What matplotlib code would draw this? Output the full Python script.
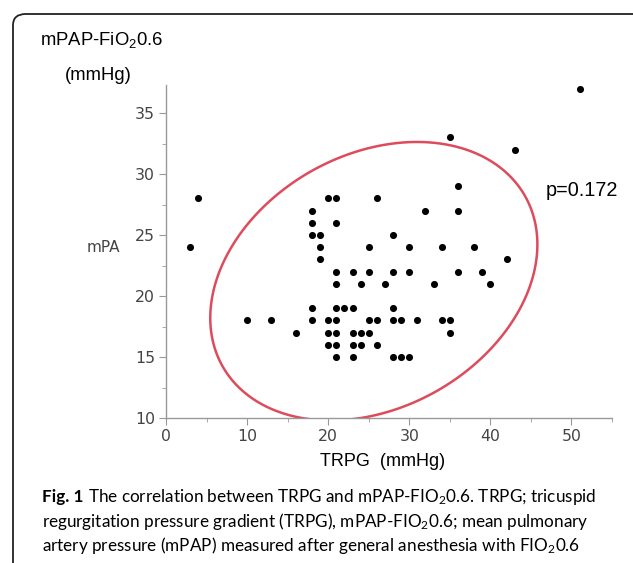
import numpy as np
import matplotlib
matplotlib.use("Agg")
import matplotlib.pyplot as plt
from matplotlib.patches import FancyBboxPatch, Polygon

plt.rcParams['mathtext.default'] = 'regular'

# TRPG (mmHg) vs mPAP at FiO2 0.6 (mmHg)
trpg = [3, 4, 10, 13, 16,
        18, 18, 18, 18, 18,
        19, 19, 19,
        20, 20, 20, 20,
        21, 21, 21, 21, 21, 21, 21, 21, 21,
        22,
        23, 23, 23, 23, 23,
        24, 24, 24,
        25, 25, 25, 25,
        26, 26, 26,
        27,
        28, 28, 28, 28, 28,
        29, 29,
        30, 30, 30,
        31, 32, 33,
        34, 34,
        35, 35, 35,
        36, 36, 36,
        38, 39, 40, 42, 43, 51]
mpap = [24, 28, 18, 18, 17,
        27, 26, 25, 19, 18,
        25, 24, 23,
        28, 18, 17, 16,
        28, 26, 22, 21, 19, 18, 17, 16, 15,
        19,
        22, 19, 17, 16, 15,
        21, 17, 16,
        24, 22, 18, 17,
        28, 18, 16,
        21,
        25, 22, 19, 18, 15,
        18, 15,
        24, 22, 15,
        18, 27, 21,
        24, 18,
        33, 18, 17,
        29, 27, 22,
        24, 22, 21, 23, 32, 37]
p_value = 0.172
x_ticks = [0, 10, 20, 30, 40, 50]
y_ticks = [10, 15, 20, 25, 30, 35]
ellipse_level = 0.94

W, H = 633, 563
fig = plt.figure(figsize=(W / 100, H / 100), dpi=100)

# frame around the panel (cut off at the right and bottom edges)
frame = FancyBboxPatch((13 / W, -0.2), 1.2, (1 - 14 / H) + 0.2,
                       boxstyle="round,pad=0,rounding_size=0.02",
                       transform=fig.transFigure, fill=False,
                       edgecolor='#222222', linewidth=1.3)
fig.patches.append(frame)

ax = fig.add_axes([166 / W, 1 - 418 / H, (612 - 166) / W, (418 - 85) / H])
ax.scatter(trpg, mpap, s=26, color='black', zorder=3, linewidths=0)

# density ellipse from the data
xy = np.column_stack([trpg, mpap]).astype(float)
mu = xy.mean(axis=0)
cov = np.cov(xy, rowvar=False)
vals, vecs = np.linalg.eigh(cov)
t = np.linspace(0, 2 * np.pi, 400)
k = np.sqrt(-2 * np.log(1 - ellipse_level))
circ = np.column_stack([np.cos(t), np.sin(t)]) * np.sqrt(vals) * k
pts = circ @ vecs.T + mu
ax.add_patch(Polygon(pts, closed=True, fill=False, edgecolor='#de4b5c',
                     linewidth=1.8, zorder=2))

ax.set_xlim(0, 55)
ax.set_ylim(10, 37.3)
ax.set_xticks(x_ticks)
ax.set_yticks(y_ticks)
ax.set_xticks(np.arange(5, 56, 10), minor=True)
ax.set_yticks(np.arange(12.5, 37.3, 5), minor=True)
for s in ['top', 'right']:
    ax.spines[s].set_visible(False)
for s in ['left', 'bottom']:
    ax.spines[s].set_color('#999999')
    ax.spines[s].set_linewidth(1.0)
ax.tick_params(which='major', length=5, color='#999999', labelcolor='#444444',
               labelsize=11.3, pad=3)
ax.tick_params(which='minor', length=3, color='#999999')
ax.set_facecolor('none')

fig.text(40 / W, 1 - 40 / H, 'mPAP-FiO$_2$0.6', fontsize=13.3,
         family='Liberation Sans', va='center', ha='left')
fig.text(65 / W, 1 - 76 / H, '(mmHg)', fontsize=13.3,
         family='Liberation Sans', va='center', ha='left')
fig.text(103 / W, 1 - 247 / H, 'mPA', fontsize=11, color='#444444',
         va='center', ha='center')
fig.text(383 / W, 1 - 461 / H, 'TRPG  (mmHg)', fontsize=13,
         family='Liberation Sans', va='center', ha='center')
fig.text(582 / W, 1 - 191 / H, f'p={p_value}', fontsize=14.3,
         family='Liberation Sans', va='center', ha='center')

# caption
cap_font = 'Lato'
cap_size = 12.3
fig.canvas.draw()
r = fig.canvas.get_renderer()
t1 = fig.text(42 / W, 1 - 497 / H, 'Fig. 1', fontsize=cap_size, family=cap_font,
              weight='bold', va='center', ha='left')
bb = t1.get_window_extent(renderer=r)
fig.text((bb.x1 + 5) / W, 1 - 497 / H,
         'The correlation between TRPG and mPAP-FIO$_2$0.6. TRPG; tricuspid',
         fontsize=cap_size, family=cap_font, va='center', ha='left')
fig.text(42 / W, 1 - 521 / H,
         'regurgitation pressure gradient (TRPG), mPAP-FIO$_2$0.6; mean pulmonary',
         fontsize=cap_size, family=cap_font, va='center', ha='left')
fig.text(42 / W, 1 - 545 / H,
         'artery pressure (mPAP) measured after general anesthesia with FIO$_2$0.6',
         fontsize=cap_size, family=cap_font, va='center', ha='left')

fig.savefig('out.png', dpi=100)
